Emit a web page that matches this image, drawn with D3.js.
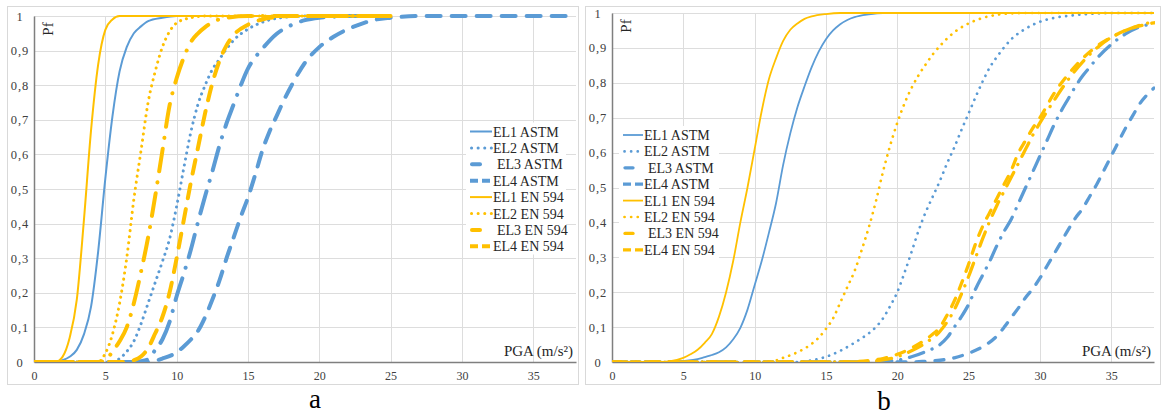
<!DOCTYPE html>
<html><head><meta charset="utf-8">
<script src="https://cdn.jsdelivr.net/npm/d3@7/dist/d3.min.js"></script>
<style>
html,body{margin:0;padding:0;background:#fff;}
svg{display:block;}
svg text{font-family:"Liberation Serif","Times New Roman",Tinos,"DejaVu Serif",serif;}
</style></head>
<body>
<svg id="chart" width="1162" height="420"></svg>
<script>
// ---------- data (PGA in m/s², Pf) ----------
const xTicks = [0,5,10,15,20,25,30,35];
const yTicks = [0,0.1,0.2,0.3,0.4,0.5,0.6,0.7,0.8,0.9,1];
const yTickLabels = ["0","0,1","0,2","0,3","0,4","0,5","0,6","0,7","0,8","0,9","1"];
const seriesNames = ["EL1 ASTM","EL2 ASTM","EL3 ASTM","EL4 ASTM","EL1 EN 594","EL2 EN 594","EL3 EN 594","EL4 EN 594"];
const panelLabels = ["a","b"];

// panel a
const a_EL1_ASTM = [[0,0],[1.5,0],[2,0.005],[2.5,0.015],[3,0.035],[3.5,0.08],[4,0.16],[4.5,0.32],[5,0.53],[5.5,0.71],[6,0.84],[6.5,0.91],[7,0.95],[7.5,0.97],[8,0.985],[9,0.995],[10,1],[25,1]];
const a_EL2_ASTM = [[0,0],[5.5,0],[6,0.01],[6.5,0.03],[7,0.06],[7.5,0.11],[8,0.17],[8.5,0.23],[9,0.29],[9.5,0.355],[10,0.45],[10.5,0.56],[11,0.665],[11.5,0.745],[12,0.8],[12.5,0.845],[13,0.875],[13.5,0.905],[14,0.93],[15,0.962],[16,0.982],[17,0.993],[18,0.998],[19,1],[25,1]];
const a_EL3_ASTM = [[0,0],[7,0],[7.5,0.002],[8,0.008],[8.5,0.035],[9,0.065],[9.5,0.115],[10,0.19],[10.5,0.255],[11,0.325],[11.5,0.405],[12,0.48],[12.5,0.55],[13,0.625],[13.5,0.69],[14,0.745],[14.5,0.8],[15,0.848],[15.5,0.88],[16,0.905],[17,0.948],[18,0.973],[19,0.988],[20,0.995],[21,0.998],[22,1],[25,1]];
const a_EL4_ASTM = [[0,0],[8,0],[9,0.01],[10,0.028],[10.5,0.045],[11,0.065],[11.5,0.09],[12,0.13],[12.5,0.18],[13,0.235],[13.5,0.3],[14,0.36],[14.5,0.42],[15,0.475],[15.5,0.54],[16,0.61],[16.5,0.665],[17,0.71],[17.5,0.755],[18,0.795],[19,0.865],[20,0.91],[21,0.94],[22,0.962],[23,0.978],[24,0.99],[25,0.995],[27,1],[38,1]];
const a_EL1_EN = [[0,0],[1.5,0],[2,0.015],[2.5,0.07],[3,0.18],[3.5,0.41],[4,0.67],[4.5,0.86],[5,0.96],[5.5,0.99],[6,1],[24.7,1]];
const a_EL2_EN = [[0,0],[4.5,0],[5,0.025],[5.5,0.08],[6,0.17],[6.5,0.3],[7,0.47],[7.5,0.61],[8,0.75],[8.5,0.84],[9,0.91],[9.5,0.955],[10,0.98],[11,0.995],[12,1],[25,1]];
const a_EL3_EN = [[0,0],[4.5,0],[5,0.005],[5.5,0.03],[6,0.06],[6.5,0.1],[7,0.17],[7.5,0.26],[8,0.36],[8.5,0.48],[9,0.61],[9.5,0.74],[10,0.82],[10.5,0.88],[11,0.925],[11.5,0.95],[12,0.968],[12.5,0.982],[13.5,0.995],[15,1],[25,1]];
const a_EL4_EN = [[0,0],[6.5,0],[7,0.005],[7.5,0.016],[8,0.04],[8.5,0.083],[9,0.13],[9.5,0.2],[10,0.3],[10.5,0.41],[11,0.52],[11.5,0.62],[12,0.72],[12.5,0.805],[13,0.87],[13.5,0.915],[14,0.945],[15,0.975],[16,0.99],[17,0.997],[18,1],[25,1]];

// panel b
const b_EL1_ASTM = [[0,0],[4,0],[5,0.003],[6,0.008],[6.5,0.014],[7,0.02],[7.5,0.028],[8,0.042],[8.5,0.065],[9,0.098],[9.5,0.15],[10,0.22],[10.5,0.29],[11,0.37],[11.5,0.455],[12,0.565],[12.5,0.655],[13,0.73],[13.5,0.79],[14,0.845],[14.5,0.89],[15,0.925],[15.5,0.95],[16,0.968],[16.5,0.98],[17,0.988],[18,0.996],[19,1],[38,1]];
const b_EL2_ASTM = [[0,0],[13,0],[14,0.005],[15,0.015],[16,0.032],[17,0.055],[17.5,0.068],[18,0.082],[18.5,0.1],[19,0.125],[19.5,0.16],[20,0.2],[20.5,0.255],[21,0.315],[21.5,0.377],[22,0.43],[22.5,0.475],[23,0.52],[23.5,0.57],[24,0.615],[24.5,0.665],[25,0.712],[25.5,0.76],[26,0.805],[26.5,0.845],[27,0.875],[28,0.925],[29,0.955],[30,0.975],[31,0.986],[32,0.992],[33,0.996],[35,1],[38,1]];
const b_EL3_ASTM = [[0,0],[18,0],[20,0.005],[21,0.015],[22,0.03],[23,0.05],[23.5,0.07],[24,0.1],[24.5,0.13],[25,0.165],[25.5,0.21],[26,0.25],[26.5,0.29],[27,0.335],[27.5,0.375],[28,0.41],[28.5,0.455],[29,0.5],[29.5,0.545],[30,0.59],[30.5,0.635],[31,0.68],[31.5,0.72],[32,0.755],[32.5,0.79],[33,0.82],[33.5,0.845],[34,0.87],[35,0.91],[36,0.94],[37,0.96],[38,0.97]];
const b_EL4_ASTM = [[0,0],[21,0],[22,0.002],[23,0.005],[24,0.012],[25,0.025],[26,0.044],[27,0.075],[27.5,0.1],[28,0.128],[28.5,0.155],[29,0.185],[29.5,0.21],[30,0.24],[30.5,0.275],[31,0.31],[31.5,0.345],[32,0.38],[32.5,0.413],[33,0.44],[33.5,0.475],[34,0.51],[34.5,0.55],[35,0.59],[35.5,0.63],[36,0.67],[36.5,0.705],[37,0.74],[37.5,0.765],[38,0.785]];
const b_EL1_EN = [[0,0],[3,0],[4,0.002],[5,0.012],[5.5,0.022],[6,0.035],[6.5,0.055],[7,0.08],[7.5,0.13],[8,0.2],[8.5,0.29],[9,0.4],[9.5,0.5],[10,0.61],[10.5,0.72],[11,0.81],[11.5,0.87],[12,0.92],[12.5,0.952],[13,0.97],[13.5,0.983],[14,0.99],[15,0.997],[16,1],[38,1]];
const b_EL2_EN = [[0,0],[11,0],[12,0.012],[13,0.028],[14,0.052],[14.5,0.07],[15,0.095],[15.5,0.125],[16,0.17],[16.5,0.215],[17,0.26],[17.5,0.32],[18,0.385],[18.5,0.46],[19,0.545],[19.5,0.62],[20,0.685],[20.5,0.74],[21,0.785],[21.5,0.822],[22,0.853],[22.5,0.882],[23,0.906],[24,0.945],[25,0.97],[26,0.986],[27,0.995],[28,0.999],[29,1],[38,1]];
const b_EL3_EN = [[0,0],[17,0],[19,0.006],[20,0.015],[21,0.032],[22,0.055],[23,0.088],[23.5,0.115],[24,0.15],[24.5,0.195],[25,0.245],[25.5,0.3],[26,0.355],[26.5,0.405],[27,0.45],[27.5,0.49],[28,0.53],[28.5,0.57],[29,0.61],[29.5,0.65],[30,0.685],[31,0.75],[32,0.81],[33,0.86],[34,0.9],[35,0.93],[36,0.95],[37,0.965],[38,0.975]];
const b_EL4_EN = [[0,0],[16,0],[18,0.004],[19,0.01],[20,0.022],[21,0.04],[22,0.065],[22.5,0.08],[23,0.1],[23.5,0.135],[24,0.175],[24.5,0.225],[25,0.28],[25.5,0.34],[26,0.39],[26.5,0.43],[27,0.47],[27.5,0.51],[28,0.55],[28.5,0.6],[29,0.635],[29.5,0.67],[30,0.7],[31,0.77],[32,0.825],[33,0.87],[34,0.905],[35,0.93],[36,0.95],[37,0.963],[38,0.972]];

const panelA = [a_EL1_ASTM,a_EL2_ASTM,a_EL3_ASTM,a_EL4_ASTM,a_EL1_EN,a_EL2_EN,a_EL3_EN,a_EL4_EN];
const panelB = [b_EL1_ASTM,b_EL2_ASTM,b_EL3_ASTM,b_EL4_ASTM,b_EL1_EN,b_EL2_EN,b_EL3_EN,b_EL4_EN];

// ---------- layout & styles ----------
const BLUE = "#5B9BD5", GOLD = "#FFC000";
const FONT = '"Liberation Serif","Times New Roman",Tinos,"DejaVu Serif",serif';
const panels = [
  {data: panelA, label: panelLabels[0], frame:[7,6,578,384], x0:34, x1:576, yTop:16, yBot:362,
   legX:470, legY:131.5, legLen:22, labelX:315, labelY:408,
   w:[2,3,4,4], dash:[null,"0.1,6","23,11,0.1,11","14,11"]},
  {data: panelB, label: panelLabels[1], frame:[585,6,1160,384], x0:612, x1:1154, yTop:13, yBot:362,
   legX:623, legY:135, legLen:20, labelX:884, labelY:410,
   w:[1.8,2.7,3.3,3.3], dash:[null,"0.1,6.5","15,9,0.1,9","9,10"]}
];

const svg = d3.select("#chart");

panels.forEach((P, pi) => {
  const g = svg.append("g").attr("font-family", FONT);
  const [fx0, fy0, fx1, fy1] = P.frame;
  g.append("rect").attr("x", fx0+0.5).attr("y", fy0+0.5).attr("width", fx1-fx0).attr("height", fy1-fy0)
    .attr("fill", "#fff").attr("stroke", "#d9d9d9").attr("stroke-width", 1);

  const x = d3.scaleLinear().domain([0, 38]).range([P.x0, P.x1]);
  const y = d3.scaleLinear().domain([0, 1]).range([P.yBot, P.yTop]);

  // gridlines
  g.append("g").selectAll("line").data(yTicks.slice(1)).join("line")
    .attr("x1", P.x0).attr("x2", P.x1)
    .attr("y1", d => Math.round(y(d))+0.5).attr("y2", d => Math.round(y(d))+0.5)
    .attr("stroke", "#dddddd").attr("stroke-width", 1);
  g.append("g").selectAll("line").data(xTicks.slice(1)).join("line")
    .attr("x1", d => Math.round(x(d))+0.5).attr("x2", d => Math.round(x(d))+0.5)
    .attr("y1", P.yTop).attr("y2", P.yBot)
    .attr("stroke", "#dddddd").attr("stroke-width", 1);

  // axes
  const xAxis = d3.axisBottom(x).tickValues(xTicks).tickSize(0).tickPadding(9).tickFormat(d3.format("d"));
  const gx = g.append("g").attr("transform", `translate(0,${P.yBot})`).call(xAxis).attr("font-family", FONT);
  gx.select(".domain").attr("stroke", "#7f7f7f").attr("stroke-width", 1.5);
  gx.selectAll("text").attr("font-size", 12).attr("fill", "#404040");

  const yAxis = d3.axisLeft(y).tickValues(yTicks).tickSize(0).tickPadding(14)
    .tickFormat((d, i) => yTickLabels[i]);
  const gy = g.append("g").attr("transform", `translate(${P.x0},0)`).call(yAxis).attr("font-family", FONT);
  gy.select(".domain").attr("stroke", "#7f7f7f").attr("stroke-width", 1.5);
  gy.selectAll("text").attr("font-size", 12.5)
    .attr("fill", "#404040").attr("text-anchor", "middle").attr("letter-spacing", 1);

  // clip
  const clipId = "clip" + pi;
  svg.append("defs").append("clipPath").attr("id", clipId).append("rect")
    .attr("x", P.x0).attr("y", P.yTop - 4).attr("width", P.x1 - P.x0 + 1).attr("height", P.yBot - P.yTop + 4);

  const line = d3.line().x(d => x(d[0])).y(d => y(d[1])).curve(d3.curveMonotoneX);
  const lg = g.append("g").attr("clip-path", `url(#${clipId})`);
  P.data.forEach((ser, i) => {
    const lvl = i % 4;
    lg.append("path").datum(ser).attr("d", line)
      .attr("fill", "none").attr("stroke", i < 4 ? BLUE : GOLD)
      .attr("stroke-width", P.w[lvl])
      .attr("stroke-linecap", lvl === 0 ? "butt" : "round")
      .attr("stroke-linejoin", "round")
      .attr("stroke-dasharray", P.dash[lvl]);
  });

  // axis titles
  g.append("text").attr("transform", `translate(${P.x0 + 19},${P.yTop + 13}) rotate(-90)`)
    .attr("text-anchor", "middle").attr("font-size", 15).attr("fill", "#262626").text("Pf");
  g.append("text").attr("x", P.x1 - 3).attr("y", P.yBot - 6).attr("text-anchor", "end")
    .attr("font-size", 15).attr("fill", "#262626").text("PGA (m/s²)");

  // legend
  const legDash = [null, "0.1,6.5", null, "8,4"];
  const leg = g.append("g");
  leg.append("rect").attr("x", P.legX - 4).attr("y", P.legY - 9).attr("width", 100).attr("height", 132).attr("fill", "#fff");
  seriesNames.forEach((name, i) => {
    const lvl = i % 4;
    const yy = P.legY + i * 16.4;
    const col = i < 4 ? BLUE : GOLD;
    if (lvl === 2) {
      leg.append("line").attr("x1", P.legX + 2).attr("x2", P.legX + 10).attr("y1", yy).attr("y2", yy)
        .attr("stroke", col).attr("stroke-width", P.w[2]).attr("stroke-linecap", "round");
    } else {
      leg.append("line").attr("x1", P.legX + (lvl === 1 ? 1.5 : 0)).attr("x2", P.legX + P.legLen).attr("y1", yy).attr("y2", yy)
        .attr("stroke", col).attr("stroke-width", P.w[lvl])
        .attr("stroke-linecap", lvl === 1 ? "round" : "butt")
        .attr("stroke-dasharray", legDash[lvl]);
    }
    leg.append("text").attr("x", P.legX + P.legLen + 1 + (lvl === 2 ? 4 : 0)).attr("y", yy + 5)
      .attr("font-size", 14).attr("fill", "#262626").text(name);
  });

  // panel letter
  svg.append("text").attr("x", P.labelX).attr("y", P.labelY).attr("text-anchor", "middle")
    .attr("font-family", FONT).attr("font-size", 27).attr("fill", "#000").text(P.label);
});
</script>
</body></html>
